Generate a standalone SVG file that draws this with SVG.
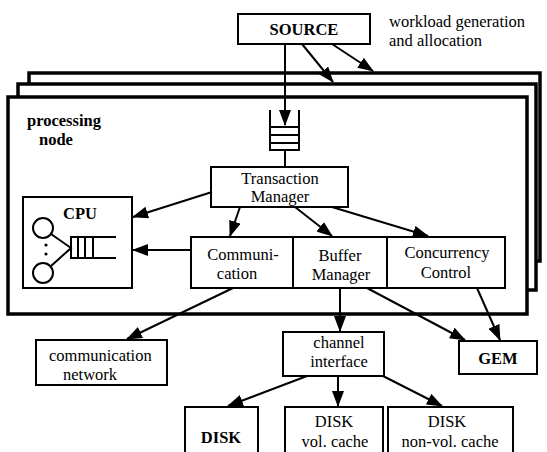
<svg xmlns="http://www.w3.org/2000/svg" width="547" height="452" viewBox="0 0 547 452">
<style>
.box{fill:#fff;stroke:#000;stroke-width:2}
.frame{fill:#fff;stroke:#000;stroke-width:3.5}
text{font-family:'Liberation Serif','DejaVu Serif','Times New Roman',Times,serif;font-size:16.5px;fill:#000;text-anchor:middle}
.b{font-weight:bold}
.l{text-anchor:start}
.c{stroke:#000;stroke-width:2;fill:none}
.a{marker-end:url(#ah)}
</style>
<defs>
<marker id="ah" markerUnits="userSpaceOnUse" markerWidth="16" markerHeight="12" viewBox="0 0 16 12" refX="15" refY="6" orient="auto">
<path d="M0,0 L16,6 L0,12 z" fill="#000"/>
</marker>
</defs>
<rect width="547" height="452" fill="#fff"/>

<g id="frames">
<rect class="frame" x="29" y="73" width="511" height="188"/>
<rect class="frame" x="18" y="84" width="518" height="206"/>
<rect class="frame" x="8" y="97" width="519" height="217"/>
</g>

<g id="source">
<rect class="box" x="238" y="14" width="132" height="30"/>
<text class="b" x="304" y="35">SOURCE</text>
</g>
<g id="workload-label">
<text class="l" x="389" y="27">workload generation</text>
<text class="l" x="389" y="46">and allocation</text>
</g>
<g id="processing-node-label">
<text class="b l" x="27" y="126">processing</text>
<text class="b l" x="39" y="145">node</text>
</g>

<g id="queue">
<path class="c" d="M270,110 V150 H299 V110 M270,127 H299 M270,135 H299 M270,143 H299"/>
</g>

<g id="transaction-manager">
<rect class="box" x="211" y="167" width="137" height="40"/>
<text x="280" y="184">Transaction</text>
<text x="280" y="202">Manager</text>
</g>

<g id="cpu">
<rect class="box" x="23" y="197" width="109" height="91"/>
<text class="b" x="80" y="219">CPU</text>
<circle cx="43" cy="228" r="10" fill="#fff" stroke="#000" stroke-width="2"/>
<circle cx="43" cy="273" r="10" fill="#fff" stroke="#000" stroke-width="2"/>
<circle cx="46" cy="245" r="1.6" fill="#000"/>
<circle cx="46" cy="254" r="1.6" fill="#000"/>
<path class="c" d="M51,234 L71,248 L51,266 M116,237 H71 V258 H116 M78,237 V258 M85,237 V258 M93,237 V258"/>
</g>

<g id="communication">
<rect class="box" x="191" y="237" width="102" height="51"/>
<text x="243" y="260">Communi-</text>
<text x="237" y="279">cation</text>
</g>
<g id="buffer-manager">
<rect class="box" x="293" y="237" width="94" height="51"/>
<text x="340" y="261">Buffer</text>
<text x="341" y="280">Manager</text>
</g>
<g id="concurrency-control">
<rect class="box" x="387" y="237" width="118" height="51"/>
<text x="447" y="258">Concurrency</text>
<text x="446" y="278">Control</text>
</g>

<g id="communication-network">
<rect class="box" x="36" y="340" width="131" height="45"/>
<text class="l" x="49" y="361">communication</text>
<text class="l" x="63" y="380">network</text>
</g>
<g id="channel-interface">
<rect class="box" x="283" y="332" width="101" height="44"/>
<text x="339" y="348">channel</text>
<text x="339" y="367">interface</text>
</g>
<g id="gem">
<rect class="box" x="459" y="341" width="78" height="33"/>
<text class="b" x="498" y="364">GEM</text>
</g>
<g id="disk">
<rect class="box" x="185" y="407" width="73" height="50"/>
<text class="b" x="221" y="443">DISK</text>
</g>
<g id="disk-vol-cache">
<rect class="box" x="285" y="407" width="98" height="50"/>
<text x="334" y="427">DISK</text>
<text x="335" y="447">vol. cache</text>
</g>
<g id="disk-non-vol-cache">
<rect class="box" x="388" y="407" width="125" height="50"/>
<text x="447" y="427">DISK</text>
<text x="450" y="447">non-vol. cache</text>
</g>

<g id="connectors">
<line class="c a" x1="285" y1="44" x2="285" y2="125"/>
<line class="c" x1="285" y1="150" x2="285" y2="167"/>
<line class="c a" x1="302" y1="44" x2="333" y2="82"/>
<line class="c a" x1="332" y1="44" x2="373" y2="71"/>
<line class="c a" x1="212" y1="192" x2="133" y2="217"/>
<line class="c a" x1="240" y1="207" x2="230" y2="236"/>
<line class="c a" x1="295" y1="207" x2="332" y2="236"/>
<line class="c a" x1="332" y1="207" x2="428" y2="236"/>
<line class="c a" x1="191" y1="250" x2="133" y2="250"/>
<line class="c a" x1="233" y1="288" x2="127" y2="339"/>
<line class="c a" x1="340" y1="288" x2="340" y2="331"/>
<line class="c a" x1="367" y1="288" x2="465" y2="340"/>
<line class="c a" x1="477" y1="288" x2="500" y2="340"/>
<line class="c a" x1="307" y1="376" x2="228" y2="406"/>
<line class="c a" x1="338" y1="376" x2="338" y2="406"/>
<line class="c a" x1="383" y1="376" x2="442" y2="406"/>
</g>
</svg>
